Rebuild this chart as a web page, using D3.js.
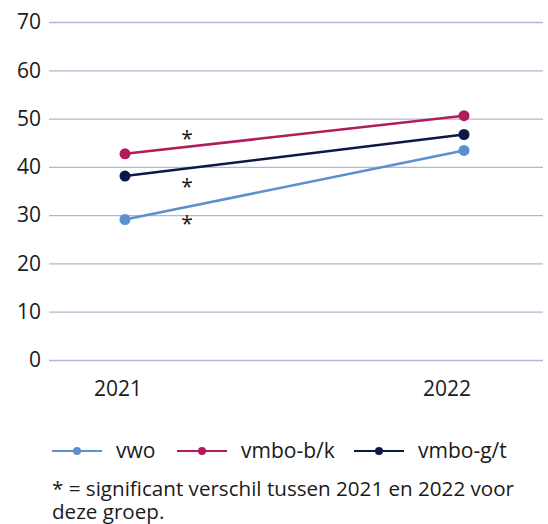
<!DOCTYPE html>
<html><head><meta charset="utf-8">
<script src="https://cdn.jsdelivr.net/npm/d3@7"></script>
<style>
html,body{margin:0;padding:0;background:#fff;}
svg{display:block;font-family:"Open Sans","Noto Sans",sans-serif;}
</style></head>
<body>
<svg id="c" width="548" height="524"></svg>
<script>
const years = ["2021", "2022"];
const seriesNames = ["vwo", "vmbo-b/k", "vmbo-g/t"];
const vwo = [29.1, 43.4];
const vmboBK = [42.7, 50.6];
const vmboGT = [38.1, 46.7];
const significant = ["vmbo-b/k", "vmbo-g/t", "vwo"];
const yTicks = [0, 10, 20, 30, 40, 50, 60, 70];
const footnote = ["* = significant verschil tussen 2021 en 2022 voor", "deze groep."];

const colors = {"vwo": "#5b8fcf", "vmbo-b/k": "#b01c5c", "vmbo-g/t": "#0c1846"};
const series = [
  {name: "vwo", values: vwo},
  {name: "vmbo-b/k", values: vmboBK},
  {name: "vmbo-g/t", values: vmboGT}
];
const FS = 21;

const svg = d3.select("#c");
const y = d3.scaleLinear().domain([0, 70]).range([360, 22]);
const x = d3.scalePoint().domain(years).range([125, 464]);
const xLabel = d3.scalePoint().domain(years).range([118, 447]);

// gridlines
const yAxis = d3.axisLeft(y).tickValues(yTicks).tickSize(-494).tickPadding(8);
const gy = svg.append("g").attr("transform", "translate(49,0)").call(yAxis);
gy.select(".domain").remove();
gy.selectAll(".tick line").attr("stroke", "#b3b6d1").attr("stroke-width", 1.3);
gy.selectAll(".tick text").attr("fill", "#1a1a1a").attr("font-size", FS)
  .attr("font-family", "'Open Sans','Noto Sans',sans-serif");

// x labels
svg.append("g").selectAll("text").data(years).join("text")
  .attr("x", d => xLabel(d)).attr("y", 396)
  .attr("text-anchor", "middle").attr("font-size", FS).attr("fill", "#1a1a1a")
  .text(d => d);

const line = d3.line().x((d, i) => x(years[i])).y(d => y(d));
const gs = svg.append("g").selectAll("g").data(series).join("g");
gs.append("path").attr("d", d => line(d.values)).attr("fill", "none")
  .attr("stroke", d => colors[d.name]).attr("stroke-width", 2.6);
gs.selectAll("circle").data(d => d.values.map((v, i) => ({v, i, name: d.name}))).join("circle")
  .attr("cx", d => x(years[d.i])).attr("cy", d => y(d.v)).attr("r", 5.5)
  .attr("fill", d => colors[d.name]);

// significance asterisks (placed relative to the 2021 point)
const sigOffset = {"vmbo-b/k": -22, "vmbo-g/t": 4, "vwo": -2};
svg.append("g").selectAll("text").data(series.filter(s => significant.includes(s.name))).join("text")
  .attr("x", d => x(years[0]) + 62)
  .attr("y", d => y(d.values[0]) + sigOffset[d.name] + 14)
  .attr("text-anchor", "middle").attr("font-size", FS).attr("fill", "#1a1a1a")
  .text("*");

// legend
const legendX = [52, 177, 354];
const lg = svg.append("g").selectAll("g").data(seriesNames).join("g")
  .attr("transform", (d, i) => `translate(${legendX[i]},451)`);
lg.append("line").attr("x1", 0).attr("x2", 50).attr("y1", 0).attr("y2", 0)
  .attr("stroke", d => colors[d]).attr("stroke-width", 2);
lg.append("circle").attr("cx", 25).attr("cy", 0).attr("r", 4).attr("fill", d => colors[d]);
lg.append("text").attr("x", 64).attr("y", 7).attr("font-size", FS).attr("fill", "#1a1a1a")
  .text(d => d);

// footnote (one multi-line text)
const fn = svg.append("text").attr("x", 52).attr("y", 496)
  .attr("font-size", 20.6).attr("fill", "#1a1a1a");
fn.selectAll("tspan").data(footnote).join("tspan")
  .attr("x", 52).attr("dy", (d, i) => i === 0 ? 0 : 23).text(d => d);
</script>
</body></html>
